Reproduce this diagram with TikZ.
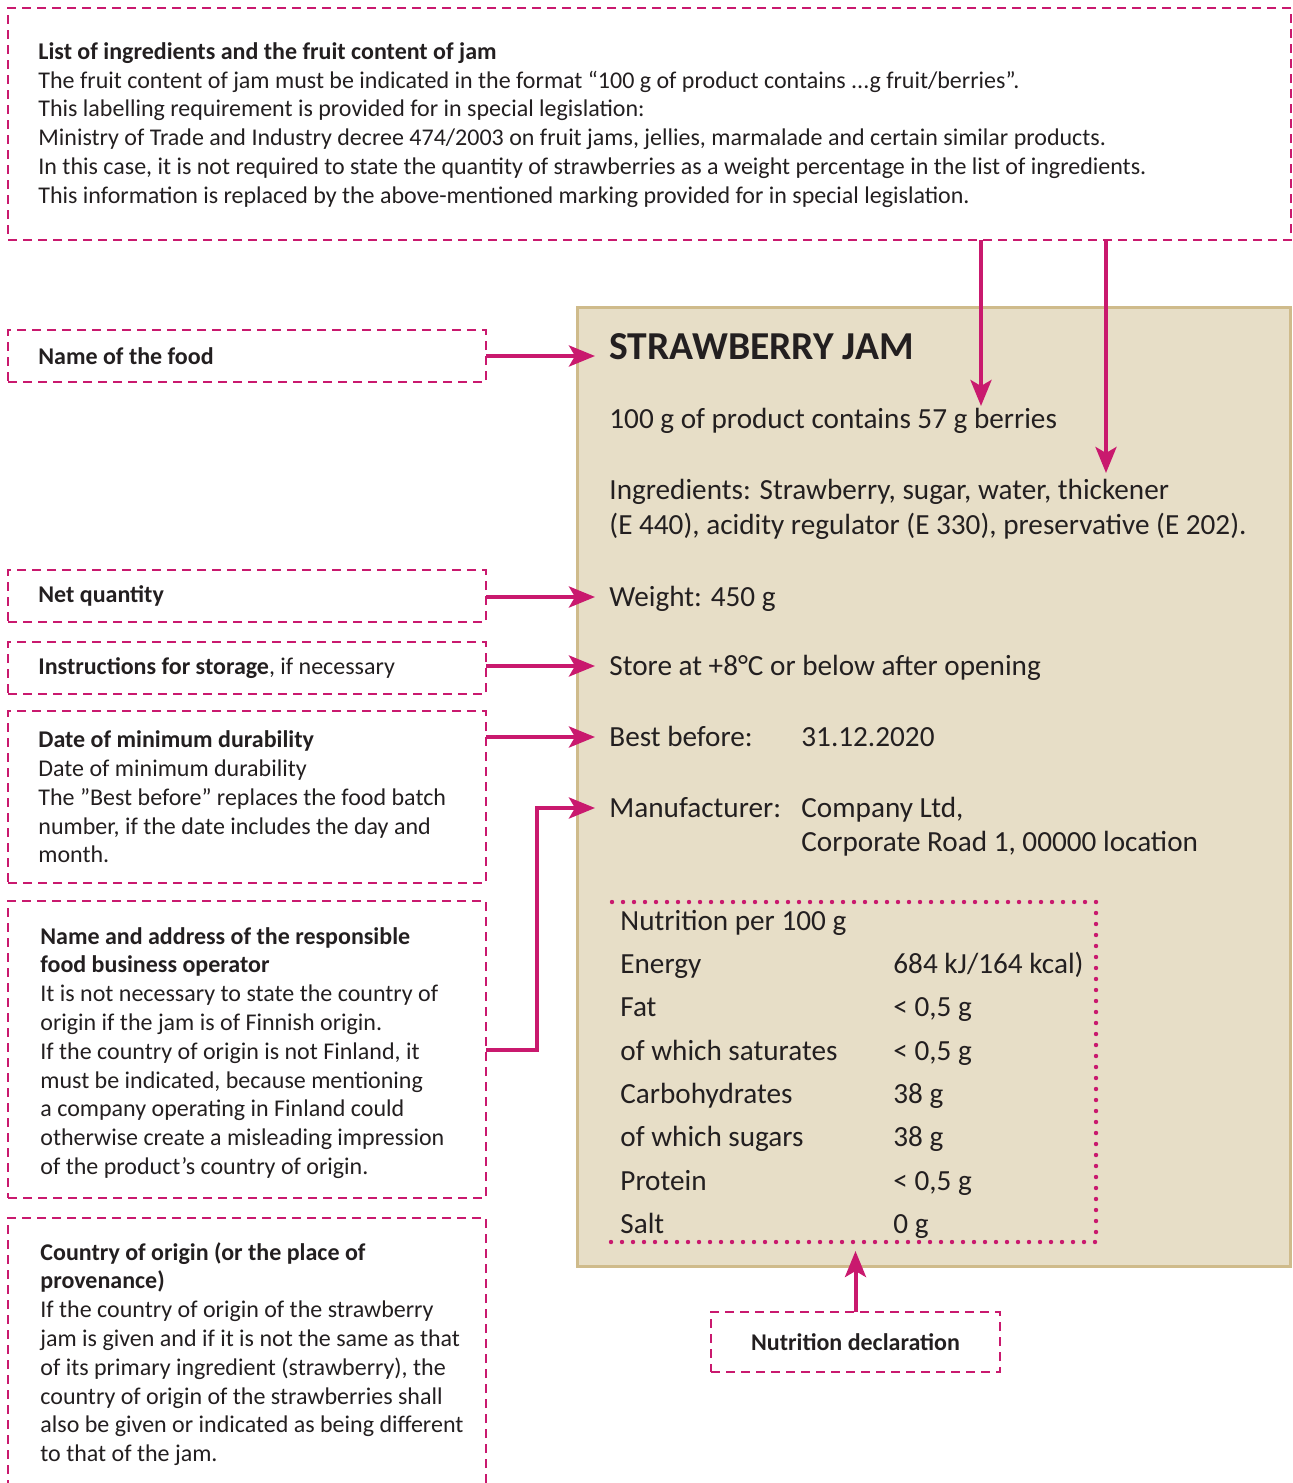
\documentclass[tikz,border=0pt]{standalone}
\usepackage{fontspec}
\setmainfont{Carlito}
\usepackage{tikz}
\usetikzlibrary{arrows.meta}
\definecolor{jampink}{RGB}{201,25,110}
\definecolor{labelfill}{RGB}{231,222,199}
\definecolor{labeledge}{RGB}{207,187,139}
\definecolor{ink}{RGB}{35,31,32}
\newcommand{\notesize}{\fontsize{12}{14.4}\selectfont}
\newcommand{\labelsize}{\fontsize{14.6}{17.5}\selectfont}
\tikzstyle{notebox}=[draw=jampink, line width=1.3pt, dash pattern=on 4.5pt off 3pt, inner sep=0, outer sep=0]
\tikzstyle{note}=[font=\notesize, text=ink, align=left, inner sep=0, anchor=west]
\tikzstyle{labelbox}=[draw=labeledge, fill=labelfill, line width=1.5pt, inner sep=0]
\tikzstyle{entry}=[font=\labelsize, text=ink, anchor=west, inner xsep=7pt, inner ysep=0, text height=9.4pt, text depth=0pt]
\tikzstyle{nutrient}=[entry, inner xsep=0]
\tikzstyle{pointer}=[draw=jampink, line width=2pt, -{Stealth[length=13pt, width=10.5pt, inset=3pt]}]
\tikzstyle{nutrline}=[draw=jampink, line width=2.2pt, line cap=round, dash pattern=on 0pt off 5.5pt]

\begin{document}
\begin{tikzpicture}[x=0.5pt, y=-0.5pt]
    \useasboundingbox (0,0) rectangle (1293,1483);

    % the jar label
    \node[labelbox, minimum width=356.5pt, minimum height=479.5pt] (jar) at (933.5,786.5) {};
    \node[entry, font=\fontsize{19.8}{22}\selectfont\bfseries, text height=12.4pt] (title) at (595,347) {STRAWBERRY JAM};
    \node[entry] (fruit)   at (595,419) {100 g of product contains 57 g berries};
    \node[entry] (ingr)    at (595,490) {Ingredients: Strawberry, sugar, water, thickener};
    \node[entry] (ingrb)   at (595,525) {(E 440), acidity regulator (E 330), preservative (E 202).};
    \node[entry] (weight)  at (595,597) {Weight: 450 g};
    \node[entry] (store)   at (595,666) {Store at +8°C or below after opening};
    \node[entry] (best)    at (595,737) {Best before:};
    \node[entry] (bestday) at (787,737) {31.12.2020};
    \node[entry] (maker)   at (595,808) {Manufacturer:};
    \node[entry] (company) at (787,808) {Company Ltd,};
    \node[entry] (street)  at (787,842) {Corporate Road 1, 00000 location};

    % nutrition table
    \node[nutrient] (nhead)  at (620,921)  {Nutrition per 100 g};
    \node[nutrient] (nen)    at (620,964)  {Energy};
    \node[nutrient] (nenv)   at (893,964)  {684 kJ/164 kcal)};
    \node[nutrient] (nfat)   at (620,1007) {Fat};
    \node[nutrient] (nfatv)  at (893,1007) {< 0,5 g};
    \node[nutrient] (nsat)   at (620,1051) {of which saturates};
    \node[nutrient] (nsatv)  at (893,1051) {< 0,5 g};
    \node[nutrient] (ncarb)  at (620,1094) {Carbohydrates};
    \node[nutrient] (ncarbv) at (893,1094) {38 g};
    \node[nutrient] (nsug)   at (620,1137) {of which sugars};
    \node[nutrient] (nsugv)  at (893,1137) {38 g};
    \node[nutrient] (nprot)  at (620,1181) {Protein};
    \node[nutrient] (nprotv) at (893,1181) {< 0,5 g};
    \node[nutrient] (nsalt)  at (620,1224) {Salt};
    \node[nutrient] (nsaltv) at (893,1224) {0 g};
    \draw[nutrline] (612,902) -- (1096,902) -- (1096,1242) -- (608,1242);
    \coordinate (nutrbottom) at (855,1251);

    % explanation boxes
    \node[notebox, minimum width=641.5pt, minimum height=116pt] (ingrbox) at (649.5,124) {};
    \node[note] (ingrnote) at (38,125) {\textbf{List of ingredients and the fruit content of jam}\\
        The fruit content of jam must be indicated in the format “100 g of product contains ...g fruit/berries”.\\
        This labelling requirement is provided for in special legislation:\\
        Ministry of Trade and Industry decree 474/2003 on fruit jams, jellies, marmalade and certain similar products.\\
        In this case, it is not required to state the quantity of strawberries as a weight percentage in the list of ingredients.\\
        This information is replaced by the above-mentioned marking provided for in special legislation.};

    \node[notebox, minimum width=239pt, minimum height=26pt] (namebox) at (247,356) {};
    \node[note] (namenote) at (38,356) {\textbf{Name of the food}};

    \node[notebox, minimum width=239pt, minimum height=26pt] (qtybox) at (247,596) {};
    \node[note] (qtynote) at (38,596) {\textbf{Net quantity}};

    \node[notebox, minimum width=239pt, minimum height=26pt] (storebox) at (247,668) {};
    \node[note] (storenote) at (38,668) {\textbf{Instructions for storage}, if necessary};

    \node[notebox, minimum width=239pt, minimum height=86pt] (datebox) at (247,797) {};
    \node[note] (datenote) at (38,797) {\textbf{Date of minimum durability}\\
        Date of minimum durability\\
        The ”Best before” replaces the food batch\\
        number, if the date includes the day and\\
        month.};

    \node[notebox, minimum width=239pt, minimum height=148.5pt] (opbox) at (247,1049.5) {};
    \node[note] (opnote) at (40,1053) {\textbf{Name and address of the responsible}\\
        \textbf{food business operator}\\
        It is not necessary to state the country of\\
        origin if the jam is of Finnish origin.\\
        If the country of origin is not Finland, it\\
        must be indicated, because mentioning\\
        a company operating in Finland could\\
        otherwise create a misleading impression\\
        of the product’s country of origin.};

    \node[notebox, minimum width=239pt, minimum height=141pt] (originbox) at (247,1359) {};
    \node[note] (originnote) at (40,1354) {\textbf{Country of origin (or the place of}\\
        \textbf{provenance)}\\
        If the country of origin of the strawberry\\
        jam is given and if it is not the same as that\\
        of its primary ingredient (strawberry), the\\
        country of origin of the strawberries shall\\
        also be given or indicated as being different\\
        to that of the jam.};

    \node[notebox, minimum width=144.5pt, minimum height=30pt] (nutrbox) at (855.5,1342) {};
    \node[note, anchor=center] (nutrnote) at (855.5,1342) {\textbf{Nutrition declaration}};

    % pointers
    \coordinate (fruittip) at (981,406);
    \coordinate (ingrtip) at (1106,473);
    \draw[pointer] (ingrbox.south -| fruittip) -- (fruittip);
    \draw[pointer] (ingrbox.south -| ingrtip) -- (ingrtip);
    \draw[pointer] (namebox.east) -- (namebox.east -| title.west);
    \draw[pointer] (qtybox.east |- weight.west) -- (weight.west);
    \draw[pointer] (storebox.east |- store.west) -- (store.west);
    \draw[pointer] (datebox.east |- best.west) -- (best.west);
    \draw[pointer] (opbox.east) -- ++(51,0) |- (maker.west);
    \draw[pointer] (nutrbox.north) -- (nutrbox.north |- nutrbottom);
\end{tikzpicture}
\end{document}
